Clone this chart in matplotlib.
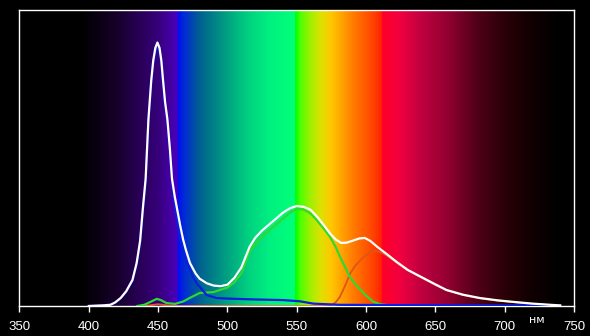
import numpy as np
import matplotlib
matplotlib.use("Agg")
import matplotlib.pyplot as plt
from matplotlib.colors import LinearSegmentedColormap

# wavelength axis
x_ticks = [350, 400, 450, 500, 550, 600, 650, 700, 750]
unit_label = "нм"

# total spectrum (white)
white_nm = [400, 410, 415.6, 419, 423, 427, 431.5, 434.5, 437, 439, 441, 443, 445, 446.5, 448, 449.5,
            451, 452.3, 453.6, 455, 456.7, 458.5, 460, 462, 464, 466, 468, 470, 473, 477, 480, 485,
            490, 495, 500, 505, 510, 516, 520, 525, 530, 535, 540, 545, 550, 555, 560, 565, 570,
            574, 578, 582, 586, 590, 595, 599, 603, 608, 615, 622, 630, 641, 650, 658, 670, 682,
            695, 706, 720, 733, 740]
white_val = [0.0, 0.002, 0.004, 0.012, 0.027, 0.05, 0.088, 0.145, 0.22, 0.33, 0.43, 0.63, 0.76, 0.83, 0.872, 0.89,
             0.872, 0.83, 0.76, 0.69, 0.63, 0.53, 0.43, 0.37, 0.32, 0.27, 0.225, 0.19, 0.145, 0.11, 0.092, 0.077,
             0.069, 0.067, 0.072, 0.095, 0.13, 0.2, 0.23, 0.255, 0.275, 0.295, 0.315, 0.33, 0.338, 0.335, 0.325, 0.3, 0.27,
             0.245, 0.225, 0.213, 0.214, 0.22, 0.228, 0.23, 0.22, 0.2, 0.175, 0.149, 0.122, 0.095, 0.073, 0.054, 0.038, 0.027,
             0.019, 0.014, 0.008, 0.004, 0.002]

# blue channel
blue_nm = [400, 415, 419, 423, 427, 431.5, 434.5, 437, 439, 441, 443, 445, 446.5, 448, 449.5, 451,
           452.3, 453.6, 455, 456.7, 458.5, 460, 462, 464, 466, 468, 471, 475, 478, 480, 485, 492,
           500, 520, 540, 552, 562, 581, 620, 700, 740]
blue_val = [0.0, 0.004, 0.011, 0.026, 0.048, 0.085, 0.14, 0.21, 0.32, 0.42, 0.62, 0.75, 0.82, 0.86, 0.875, 0.86,
            0.82, 0.75, 0.68, 0.62, 0.52, 0.42, 0.34, 0.28, 0.22, 0.18, 0.145, 0.1, 0.075, 0.065, 0.037, 0.027,
            0.025, 0.022, 0.02, 0.016, 0.008, 0.004, 0.003, 0.002, 0.002]

# green channel
green_nm = [435, 440, 445, 449, 452, 456, 462, 468, 474, 480, 490, 495, 500, 505, 510, 516, 520,
            525, 530, 535, 540, 545, 550, 555, 560, 565, 570, 574, 578, 581, 585, 588, 592, 596,
            600, 605, 610, 617, 620]
green_val = [0.0, 0.004, 0.015, 0.024, 0.02, 0.01, 0.007, 0.015, 0.03, 0.044, 0.047, 0.055, 0.062, 0.08, 0.11, 0.185, 0.21,
             0.235, 0.255, 0.275, 0.295, 0.315, 0.328, 0.326, 0.312, 0.287, 0.258, 0.233, 0.2, 0.168, 0.13, 0.1, 0.075, 0.054,
             0.035, 0.015, 0.006, 0.002, 0.0]

# red channel
red_nm = [440, 445, 450, 455, 460, 570, 575, 578, 581, 585, 588.5, 592, 596, 600, 603, 607, 611,
          615, 622, 630, 641, 650, 658, 670, 682, 695, 706, 720, 733, 740]
red_val = [0.0, 0.003, 0.006, 0.003, 0.0, 0.0, 0.003, 0.012, 0.03, 0.07, 0.11, 0.135, 0.155, 0.172, 0.182, 0.186, 0.18,
           0.17, 0.146, 0.12, 0.093, 0.071, 0.053, 0.037, 0.026, 0.018, 0.013, 0.007, 0.003, 0.001]

# background spectrum colour stops (nm, colour)
spec_stops = [(350, "#000000"), (395, "#000000"), (420, "#160028"), (450, "#36007a"),
              (462, "#4800b0"), (464, "#4000c8"), (464.6, "#0010f0"), (470, "#0030d0"),
              (480, "#006090"), (490, "#008088"), (502, "#00a880"), (515, "#00d080"),
              (531, "#00f080"), (548.5, "#00ff78"), (549.5, "#00ff00"), (553, "#50ff00"),
              (560, "#a0f000"), (568, "#e0e000"), (575, "#ffc800"), (590, "#ff8000"),
              (605, "#ff4400"), (611, "#ff2400"), (612, "#ff0028"), (625, "#f00040"),
              (640, "#c00040"), (660, "#900030"), (680, "#500018"), (700, "#2a0008"),
              (720, "#100002"), (740, "#000000"), (750, "#000000")]

lo, hi = 350, 750
cmap = LinearSegmentedColormap.from_list(
    "spec", [((w - lo) / (hi - lo), c) for w, c in spec_stops], N=2048)

fig = plt.figure(figsize=(5.9, 3.36), dpi=100, facecolor="black")
ax = fig.add_axes([0.033, 0.0893, 0.940, 0.881])
ax.set_facecolor("black")

grad = np.linspace(0, 1, 2048)[None, :]
ax.imshow(grad, cmap=cmap, aspect="auto", extent=[lo, hi, 0, 1],
          interpolation="nearest", zorder=0)

ax.plot(red_nm, red_val, color="#e05418", lw=1.3, zorder=2)
ax.plot(green_nm, green_val, color="#30d830", lw=1.6, zorder=3)
ax.plot(blue_nm, blue_val, color="#0a1ee0", lw=1.6, zorder=4)
ax.plot(white_nm, white_val, color="white", lw=1.6, zorder=5)

ax.set_xlim(lo, hi)
ax.set_ylim(0, 1)
ax.set_xticks(x_ticks)
ax.set_yticks([])
ax.tick_params(axis="x", colors="white", length=4, width=1, pad=7, labelsize=9.5)
for lab in ax.get_xticklabels():
    lab.set_family("Liberation Sans")
for sp in ax.spines.values():
    sp.set_color("white")
    sp.set_linewidth(1)

ax.text(723, -0.046, unit_label, color="white", fontsize=8, ha="center", va="center",
        family="DejaVu Sans", clip_on=False)

fig.savefig("out.png", dpi=100, facecolor="black")
